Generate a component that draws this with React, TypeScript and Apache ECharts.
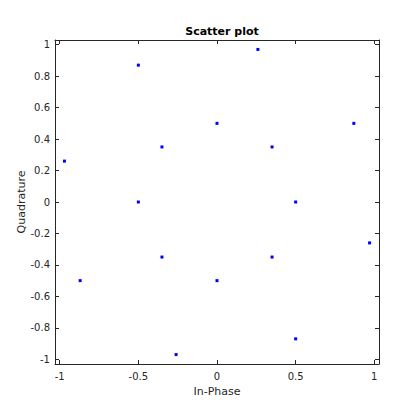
import React, { useEffect, useRef } from "react";
import * as echarts from "echarts";

const inPhase = [0.26, 0.87, 0.97, 0.5, -0.26, -0.87, -0.97, -0.5, 0, 0.35, 0.5, 0.35, 0, -0.35, -0.5, -0.35];
const quadrature = [0.97, 0.5, -0.26, -0.87, -0.97, -0.5, 0.26, 0.87, 0.5, 0.35, 0, -0.35, -0.5, -0.35, 0, 0.35];
const xTicks = [-1, -0.5, 0, 0.5, 1];
const yTicks = [-1, -0.8, -0.6, -0.4, -0.2, 0, 0.2, 0.4, 0.6, 0.8, 1];

const textColor = "#262626";
const font = "DejaVu Sans";

export default function App() {
  const ref = useRef<HTMLDivElement>(null);
  useEffect(() => {
    const chart = echarts.init(ref.current!, null, { renderer: "svg" });
    const lineStyle = { color: textColor, width: 1 };
    const baseAxis = {
      type: "value" as const,
      min: -1.03,
      max: 1.03,
      splitLine: { show: false },
      axisLine: { show: true, onZero: false, lineStyle },
    };
    chart.setOption({
      animation: false,
      backgroundColor: "#ffffff",
      title: {
        text: "Scatter plot",
        left: 217,
        textAlign: "center",
        top: 21,
        textStyle: { fontFamily: font, fontSize: 11, fontWeight: "bold", color: "#000" },
      },
      grid: { left: 55, right: 41, top: 40, bottom: 56 },
      xAxis: [
        {
          ...baseAxis,
          position: "bottom",
          name: "In-Phase",
          nameLocation: "middle",
          nameGap: 20,
          nameTextStyle: { fontFamily: font, fontSize: 11, color: textColor },
          axisTick: { show: true, inside: true, length: 4, customValues: xTicks, lineStyle },
          axisLabel: { customValues: xTicks, fontFamily: font, fontSize: 10, color: textColor, margin: 7 },
        },
        {
          ...baseAxis,
          position: "top",
          axisTick: { show: true, inside: true, length: 4, customValues: xTicks, lineStyle },
          axisLabel: { show: false },
        },
      ],
      yAxis: [
        {
          ...baseAxis,
          position: "left",
          name: "Quadrature",
          nameLocation: "middle",
          nameGap: 28,
          nameMoveOverlap: false,
          nameTextStyle: { fontFamily: font, fontSize: 11, color: textColor },
          axisTick: { show: true, inside: true, length: 4, customValues: yTicks, lineStyle },
          axisLabel: { customValues: yTicks, fontFamily: font, fontSize: 10, color: textColor, margin: 5 },
        },
        {
          ...baseAxis,
          position: "right",
          axisTick: { show: true, inside: true, length: 4, customValues: yTicks, lineStyle },
          axisLabel: { show: false },
        },
      ],
      series: [
        {
          type: "scatter",
          xAxisIndex: 0,
          yAxisIndex: 0,
          symbol: "rect",
          symbolSize: 3,
          itemStyle: { color: "#0000ff", opacity: 1 },
          data: inPhase.map((v, i) => [v, quadrature[i]]),
        },
      ],
    });
    return () => chart.dispose();
  }, []);
  return <div ref={ref} style={{ position: "fixed", left: 0, top: 0, width: 420, height: 420 }} />;
}
